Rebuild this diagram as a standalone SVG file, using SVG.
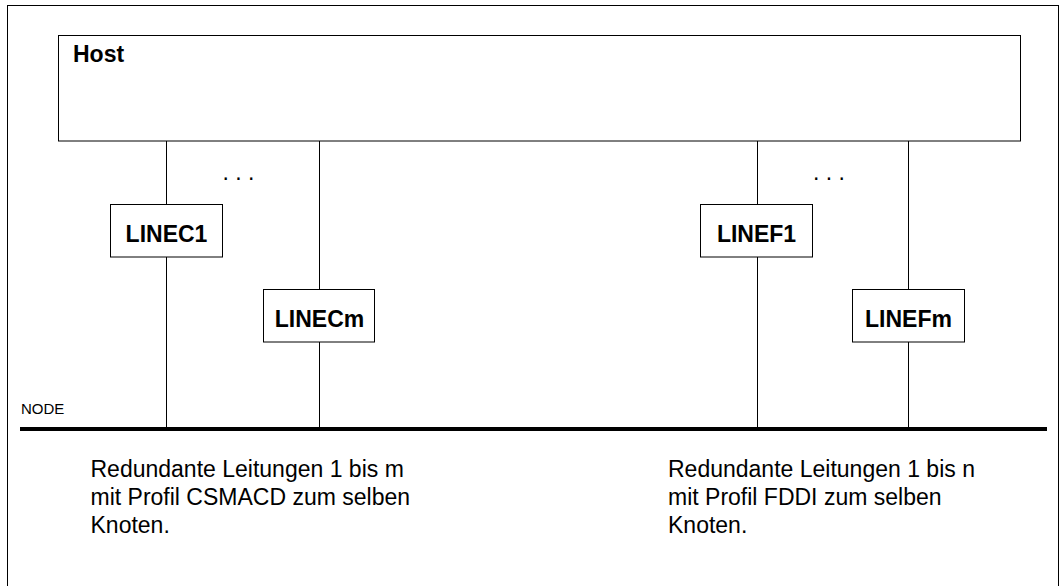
<svg xmlns="http://www.w3.org/2000/svg" width="1062" height="586" viewBox="0 0 1062 586">
<style>
.box{fill:#fff;stroke:#000;stroke-width:1}
.ln{stroke:#000;stroke-width:1;fill:none}
.lbl{font-family:"Liberation Sans",Arial,sans-serif;font-weight:bold;font-size:23px;fill:#000}
.txt{font-family:"Liberation Sans",Arial,sans-serif;font-size:23px;fill:#000}
.small{font-family:"Liberation Sans",Arial,sans-serif;font-size:15px;fill:#000}
</style>
<rect x="0" y="0" width="1062" height="586" fill="#fff"/>
<rect x="7.5" y="5.5" width="1051" height="620" fill="none" stroke="#000" stroke-width="1"/>
<g id="connectors">
<line class="ln" x1="166.5" y1="141" x2="166.5" y2="428"/>
<line class="ln" x1="319.5" y1="141" x2="319.5" y2="428"/>
<line class="ln" x1="757.5" y1="141" x2="757.5" y2="428"/>
<line class="ln" x1="908.5" y1="141" x2="908.5" y2="428"/>
</g>
<g id="host">
<rect class="box" x="58.5" y="35.5" width="962" height="105.5"/>
<text class="lbl" x="73" y="62">Host</text>
</g>
<g id="dots1"><text class="txt" x="222.5" y="180">. . .</text></g>
<g id="dots2"><text class="txt" x="813" y="180">. . .</text></g>
<g id="linec1">
<rect class="box" x="110.5" y="204.5" width="112" height="52.5"/>
<text class="lbl" x="166.5" y="242" text-anchor="middle">LINEC1</text>
</g>
<g id="linecm">
<rect class="box" x="263.5" y="289.5" width="111" height="52.5"/>
<text class="lbl" x="319.5" y="327" text-anchor="middle">LINECm</text>
</g>
<g id="linef1">
<rect class="box" x="700.5" y="204.5" width="112" height="52.5"/>
<text class="lbl" x="756.5" y="242" text-anchor="middle">LINEF1</text>
</g>
<g id="linefm">
<rect class="box" x="852.5" y="289.5" width="112" height="52.5"/>
<text class="lbl" x="908.5" y="327" text-anchor="middle">LINEFm</text>
</g>
<g id="node">
<text class="small" x="21" y="414">NODE</text>
<line x1="20" y1="429" x2="1047" y2="429" stroke="#000" stroke-width="4"/>
</g>
<g id="note-left">
<text class="txt" x="90.5" y="477">Redundante Leitungen 1 bis m</text>
<text class="txt" x="90.5" y="505">mit Profil CSMACD zum selben</text>
<text class="txt" x="90.5" y="533">Knoten.</text>
</g>
<g id="note-right">
<text class="txt" x="668" y="477">Redundante Leitungen 1 bis n</text>
<text class="txt" x="668" y="505">mit Profil FDDI zum selben</text>
<text class="txt" x="668" y="533">Knoten.</text>
</g>
</svg>
